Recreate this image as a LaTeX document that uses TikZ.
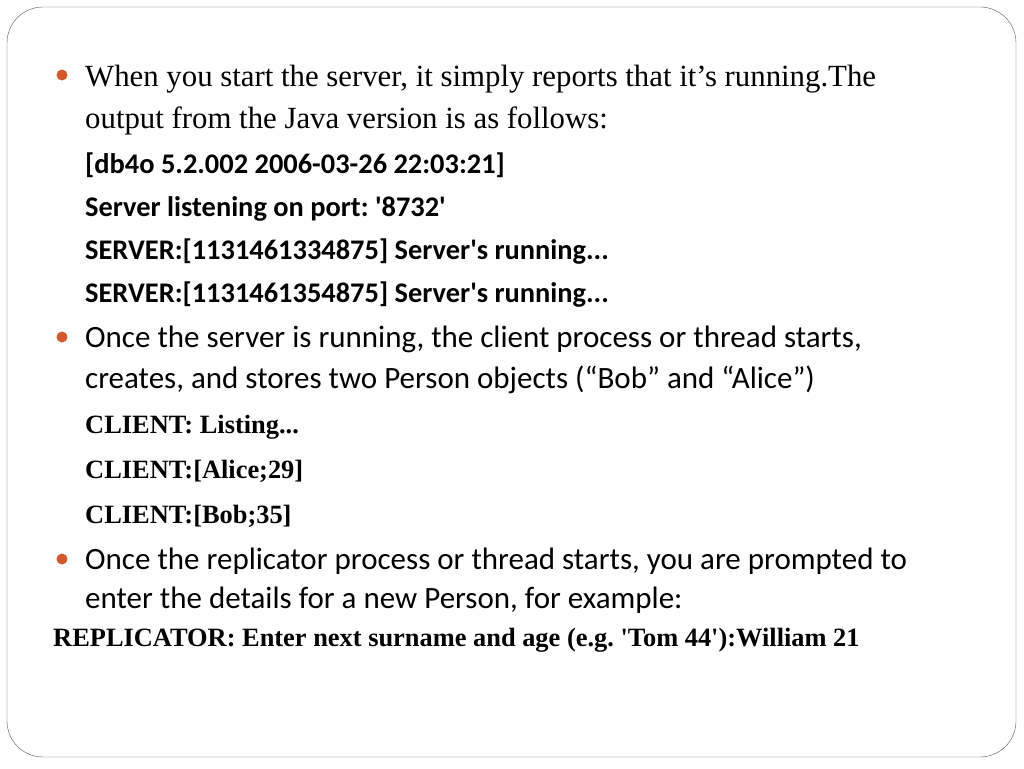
\documentclass[tikz,border=0pt]{standalone}
\usepackage{fontspec}
\setmainfont{Liberation Serif}
\newfontfamily\calibri{Carlito}
\definecolor{bulletorange}{HTML}{D5582A}
\definecolor{framegray}{HTML}{555555}
\frenchspacing
\begin{document}
\begin{tikzpicture}[x=1pt, y=-1pt,
    serifline/.style={anchor=base west, inner sep=0pt, font=\fontsize{30.8}{34}\selectfont},
    codeline/.style={anchor=base west, inner sep=0pt, font=\calibri\bfseries\fontsize{28.4}{32}\selectfont},
    sansline/.style={anchor=base west, inner sep=0pt, font=\calibri\fontsize{31}{34}\selectfont},
    clientline/.style={anchor=base west, inner sep=0pt, font=\bfseries\fontsize{26.4}{30}\selectfont},
    dot/.style={fill=bulletorange}]
      \useasboundingbox (0,0) rectangle (1024,768);
      \draw[framegray, rounded corners=36pt] (7,7) rectangle (1016,757);
      % first bullet
      \fill[dot] (62,75) circle [radius=5.5pt];
      \node[serifline] (s1) at (85,86) {When you start the server, it simply reports that it’s running.The};
      \node[serifline] (s2) at (85,128) {output from the Java version is as follows:};
      \node[codeline] (c1) at (85,173) {[db4o 5.2.002 2006-03-26 22:03:21]};
      \node[codeline] (c2) at (85,216) {Server listening on port: '8732'};
      \node[codeline] (c3) at (85,259) {SERVER:[1131461334875] Server's running...};
      \node[codeline] (c4) at (85,302) {SERVER:[1131461354875] Server's running...};
      % second bullet
      \fill[dot] (62,337) circle [radius=5.5pt];
      \node[sansline] (o1) at (85,347) {Once the server is running, the client process or thread starts,};
      \node[sansline] (o2) at (85,388) {creates, and stores two Person objects (“Bob” and “Alice”)};
      \node[clientline] (l1) at (85,433) {CLIENT: Listing...};
      \node[clientline] (l2) at (85,478) {CLIENT:[Alice;29]};
      \node[clientline] (l3) at (85,523) {CLIENT:[Bob;35]};
      % third bullet
      \fill[dot] (62,559) circle [radius=5.5pt];
      \node[sansline] (r1) at (85,569) {Once the replicator process or thread starts, you are prompted to};
      \node[sansline] (r2) at (85,608) {enter the details for a new Person, for example:};
      \node[clientline] (r3) at (53,646) {REPLICATOR: Enter next surname and age (e.g. \textquotesingle Tom 44\textquotesingle):William 21};
\end{tikzpicture}
\end{document}
